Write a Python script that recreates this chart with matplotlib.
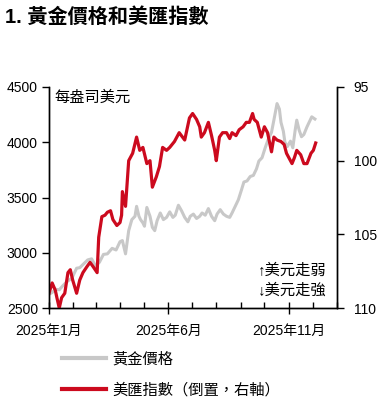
import matplotlib
matplotlib.use("Agg")
import matplotlib.pyplot as plt
import matplotlib.dates as mdates
import pandas as pd
from matplotlib.lines import Line2D

plt.rcParams['font.family'] = ['Liberation Sans', 'Noto Sans CJK TC', 'DejaVu Sans']

title = "1. 黃金價格和美匯指數"
unit_label = "每盎司美元"
note_up = "↑美元走弱"
note_down = "↓美元走強"
gold_label = "黃金價格"
dxy_label = "美匯指數（倒置，右軸）"

gold_dates = ["2025-01-01", "2025-01-05", "2025-01-09", "2025-01-14", "2025-01-19", "2025-01-24",
              "2025-01-30", "2025-02-05", "2025-02-09", "2025-02-14", "2025-02-19", "2025-02-24",
              "2025-03-01", "2025-03-06", "2025-03-11", "2025-03-16", "2025-03-22", "2025-03-27",
              "2025-04-01", "2025-04-04", "2025-04-08", "2025-04-12", "2025-04-16", "2025-04-20",
              "2025-04-22", "2025-04-25", "2025-04-27", "2025-04-30", "2025-05-02", "2025-05-05",
              "2025-05-09", "2025-05-12", "2025-05-15", "2025-05-18", "2025-05-22", "2025-05-26",
              "2025-05-30", "2025-06-03", "2025-06-07", "2025-06-10", "2025-06-14", "2025-06-18",
              "2025-06-22", "2025-06-26", "2025-06-29", "2025-07-03", "2025-07-07", "2025-07-11",
              "2025-07-14", "2025-07-18", "2025-07-22", "2025-07-26", "2025-07-30", "2025-08-02",
              "2025-08-06", "2025-08-10", "2025-08-14", "2025-08-18", "2025-08-21", "2025-08-25",
              "2025-08-29", "2025-09-02", "2025-09-05", "2025-09-09", "2025-09-13", "2025-09-17",
              "2025-09-21", "2025-09-24", "2025-09-28", "2025-10-02", "2025-10-06", "2025-10-10",
              "2025-10-13", "2025-10-17", "2025-10-20", "2025-10-22", "2025-10-25", "2025-10-27",
              "2025-10-30", "2025-11-03", "2025-11-06", "2025-11-09", "2025-11-11", "2025-11-14",
              "2025-11-17", "2025-11-20", "2025-11-24", "2025-11-28", "2025-11-30", "2025-12-04"]
gold_values = [2625, 2640, 2670, 2665, 2705, 2740,
               2770, 2860, 2865, 2900, 2935, 2945,
               2880, 2915, 2985, 2990, 3040, 3025,
               3100, 3110, 2990, 3200, 3300, 3330,
               3420, 3330, 3300, 3270, 3240, 3410,
               3330, 3230, 3200, 3290, 3360, 3300,
               3320, 3370, 3320, 3340, 3430, 3380,
               3320, 3280, 3330, 3350, 3310, 3330,
               3360, 3340, 3400, 3330, 3290, 3350,
               3390, 3350, 3330, 3320, 3360, 3420,
               3480, 3570, 3640, 3650, 3690, 3700,
               3760, 3830, 3860, 3950, 4030, 4090,
               4200, 4350, 4300, 4180, 4100, 4000,
               3960, 4010, 3950, 4110, 4200, 4110,
               4050, 4070, 4140, 4200, 4230, 4210]

dxy_dates = ["2025-01-01", "2025-01-05", "2025-01-09", "2025-01-11", "2025-01-14", "2025-01-17",
             "2025-01-21", "2025-01-25", "2025-01-28", "2025-01-31", "2025-02-05", "2025-02-09",
             "2025-02-13", "2025-02-18", "2025-02-22", "2025-02-26", "2025-03-03", "2025-03-05",
             "2025-03-09", "2025-03-13", "2025-03-16", "2025-03-20", "2025-03-23", "2025-03-28",
             "2025-04-01", "2025-04-03", "2025-04-04", "2025-04-08", "2025-04-12", "2025-04-17",
             "2025-04-22", "2025-04-26", "2025-04-30", "2025-05-05", "2025-05-09", "2025-05-12",
             "2025-05-17", "2025-05-21", "2025-05-25", "2025-05-30", "2025-06-03", "2025-06-09",
             "2025-06-15", "2025-06-22", "2025-06-28", "2025-07-02", "2025-07-07", "2025-07-11",
             "2025-07-13", "2025-07-17", "2025-07-22", "2025-07-26", "2025-07-30", "2025-08-01",
             "2025-08-05", "2025-08-09", "2025-08-14", "2025-08-18", "2025-08-21", "2025-08-26",
             "2025-08-30", "2025-09-04", "2025-09-08", "2025-09-12", "2025-09-16", "2025-09-18",
             "2025-09-22", "2025-09-27", "2025-10-01", "2025-10-05", "2025-10-10", "2025-10-13",
             "2025-10-17", "2025-10-22", "2025-10-26", "2025-10-29", "2025-11-01", "2025-11-05",
             "2025-11-08", "2025-11-11", "2025-11-16", "2025-11-20", "2025-11-24", "2025-11-29",
             "2025-12-02", "2025-12-05"]
dxy_values = [109.0, 108.3, 108.8, 109.3, 110.0, 109.3,
              109.0, 107.6, 107.4, 108.1, 109.0, 108.1,
              107.6, 107.2, 106.9, 107.2, 107.6, 105.2,
              103.8, 103.7, 103.5, 103.4, 104.0, 104.4,
              104.2, 103.7, 102.1, 103.1, 100.0, 99.5,
              98.4, 99.3, 99.1, 100.2, 100.0, 101.8,
              101.1, 100.4, 99.1, 99.3, 99.1, 98.7,
              98.1, 98.6, 97.1, 96.8, 97.2, 97.7,
              98.4, 98.1, 97.4, 98.3, 99.3, 100.0,
              98.4, 98.1, 98.1, 98.5, 98.1, 98.3,
              97.9, 97.7, 97.4, 97.4, 96.8, 97.2,
              97.4, 98.4, 97.7, 98.1, 99.4, 98.4,
              98.6, 98.7, 98.9, 99.5, 99.8, 100.2,
              99.8, 99.3, 99.6, 100.2, 100.2, 99.5,
              99.3, 98.8]

major_ticks = ["2025-01-01", "2025-06-01", "2025-11-01"]
major_labels = ["2025年1月", "2025年6月", "2025年11月"]
left_ticks = [2500, 3000, 3500, 4000, 4500]
right_ticks = [95, 100, 105, 110]

GRAY = "#c8c8c8"
RED = "#cc0a1e"

fig = plt.figure(figsize=(3.78, 3.99), dpi=100)
ax = fig.add_axes([49/378, 1-308/399, (337-49)/378, (308-87)/399])
ax2 = ax.twinx()

gd = pd.to_datetime(gold_dates)
dd = pd.to_datetime(dxy_dates)
ax.plot(gd, gold_values, color=GRAY, lw=2.2, solid_joinstyle='round')
ax2.plot(dd, dxy_values, color=RED, lw=2.3, solid_joinstyle='round')

ax.set_xlim(pd.Timestamp("2025-01-01"), pd.Timestamp("2026-01-01"))
ax.set_ylim(2500, 4500)
ax2.set_ylim(110, 95)
ax.set_yticks(left_ticks)
ax2.set_yticks(right_ticks)

ax.set_xticks(pd.to_datetime(major_ticks))
ax.set_xticklabels(major_labels)
ax.xaxis.set_minor_locator(mdates.MonthLocator())

for a in (ax, ax2):
    a.spines['top'].set_visible(False)
    for s in ('left', 'right', 'bottom'):
        a.spines[s].set_linewidth(1.0)
        a.spines[s].set_color('black')

ax.tick_params(axis='y', which='both', direction='out', length=5, width=1, labelsize=10, pad=3)
ax.tick_params(axis='x', which='major', direction='inout', length=9, width=1, labelsize=10, pad=7)
ax.tick_params(axis='x', which='minor', direction='in', length=4, width=1)
ax2.tick_params(axis='y', which='major', direction='out', length=5, width=1, labelsize=10, pad=7)

ax.text(0.02, 0.985, unit_label, transform=ax.transAxes, ha='left', va='top', fontsize=11)
ax.text(0.965, 0.17, note_up, transform=ax.transAxes, ha='right', va='center', fontsize=11)
ax.text(0.965, 0.08, note_down, transform=ax.transAxes, ha='right', va='center', fontsize=11)

fig.text(5/378, 1-17/399, title, ha='left', va='center', fontsize=14.5, fontweight='bold')

handles = [Line2D([0], [0], color=GRAY, lw=3), Line2D([0], [0], color=RED, lw=3)]
fig.legend(handles, [gold_label, dxy_label], loc='upper left',
           bbox_to_anchor=(62/378, 1-352/399), frameon=False, fontsize=11,
           handlelength=2.9, handletextpad=0.4, labelspacing=1.05, borderpad=0, borderaxespad=0)

fig.savefig("out.png", dpi=100)
